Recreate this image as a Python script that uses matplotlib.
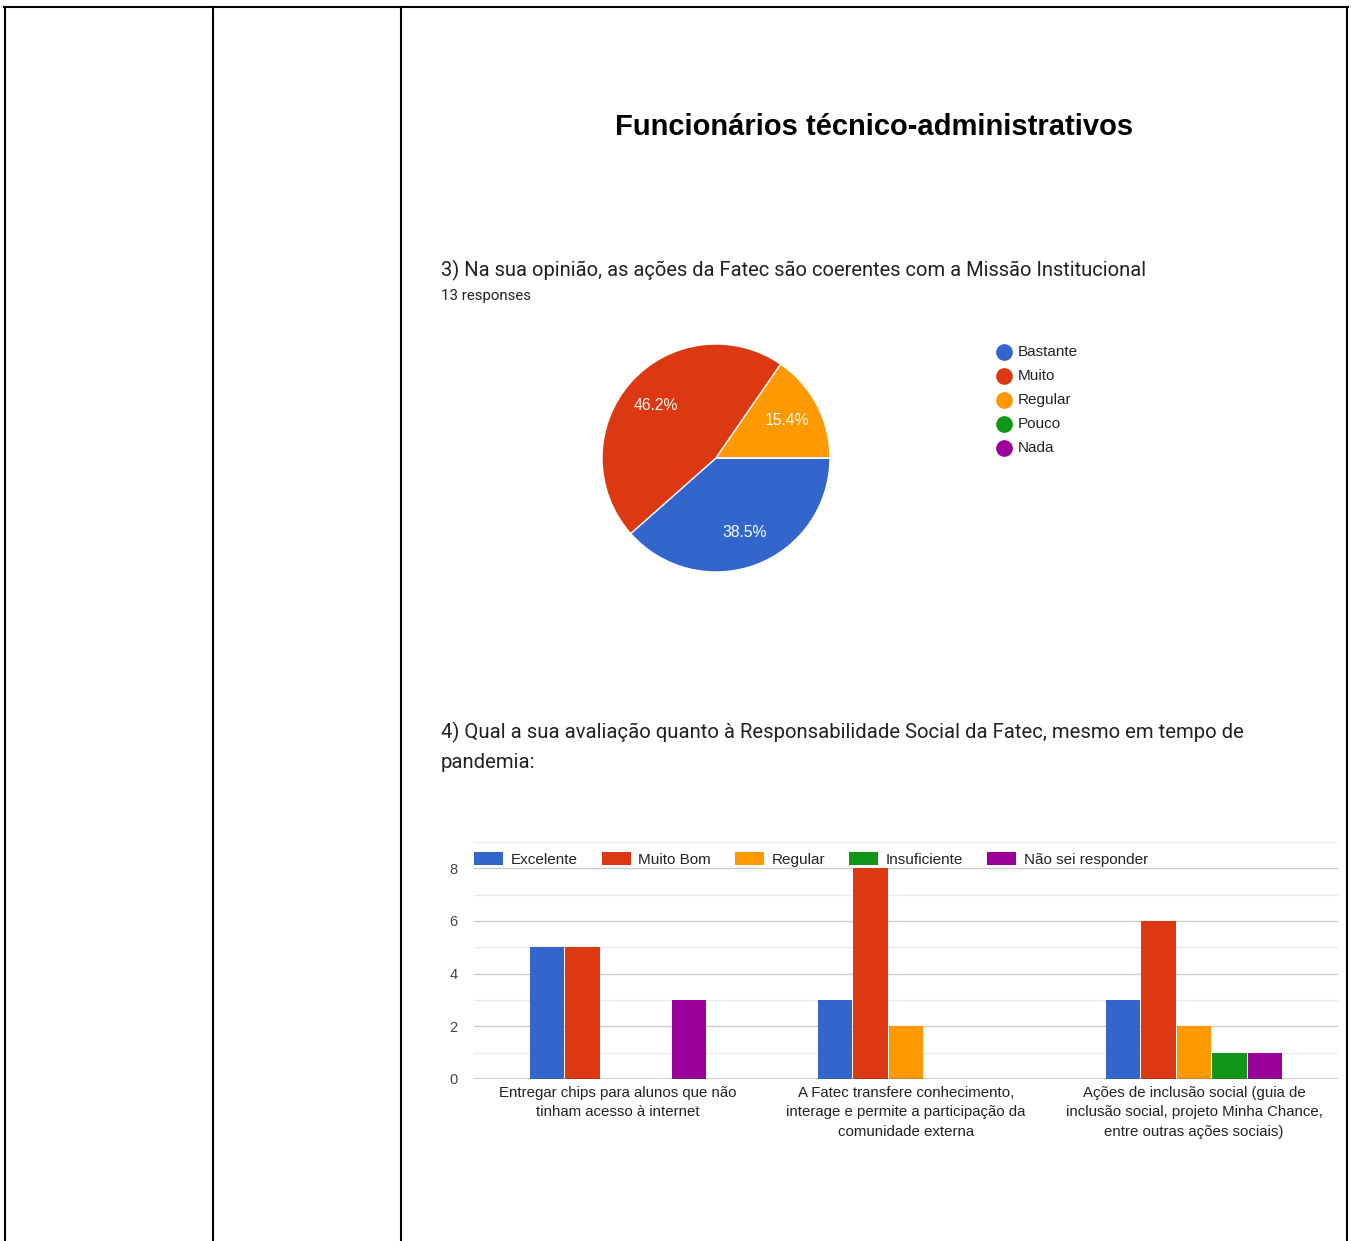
import matplotlib.pyplot as plt
from matplotlib.lines import Line2D
from matplotlib.patches import Patch
import numpy as np

# pie data
pie_labels = ['Bastante', 'Muito', 'Regular', 'Pouco', 'Nada']
pie_counts = [5, 6, 2, 0, 0]
pie_colors = ['#3366cc', '#dc3912', '#ff9900', '#109618', '#990099']

# bar data
bar_series = ['Excelente', 'Muito Bom', 'Regular', 'Insuficiente', 'Não sei responder']
bar_categories = ['Entregar chips para alunos que não\ntinham acesso à internet',
                  'A Fatec transfere conhecimento,\ninterage e permite a participação da\ncomunidade externa',
                  'Ações de inclusão social (guia de\ninclusão social, projeto Minha Chance,\nentre outras ações sociais)']
excelente = [5, 3, 3]
muito_bom = [5, 8, 6]
regular = [0, 2, 2]
insuficiente = [0, 0, 1]
nao_sei = [3, 0, 1]
bar_colors = ['#3366cc', '#dc3912', '#ff9900', '#109618', '#990099']

W, H = 1352, 1241
fig = plt.figure(figsize=(W / 100, H / 100), dpi=100)
fig.patch.set_facecolor('white')


def fx(x):
    return x / W


def fy(y):
    return 1 - y / H


# table borders
lw = 1.5
for x in [5, 213, 401, 1347]:
    fig.add_artist(Line2D([fx(x), fx(x)], [fy(7), fy(1241)], color='black', lw=lw))
fig.add_artist(Line2D([fx(4), fx(1348)], [fy(7), fy(7)], color='black', lw=lw))

# title and questions
fig.text(fx(874), fy(127), 'Funcionários técnico-administrativos', ha='center', va='center',
         fontsize=21, fontweight='bold', family='Liberation Sans', color='black')
fig.text(fx(441), fy(270), '3) Na sua opinião, as ações da Fatec são coerentes com a Missão Institucional',
         ha='left', va='center', fontsize=14.5, family='Roboto', color='#202124')
fig.text(fx(441), fy(296), '13 responses', ha='left', va='center', fontsize=10.8,
         family='Roboto', color='#202124')
fig.text(fx(441), fy(732), '4) Qual a sua avaliação quanto à Responsabilidade Social da Fatec, mesmo em tempo de',
         ha='left', va='center', fontsize=14.6, family='Roboto', color='#202124')
fig.text(fx(441), fy(762), 'pandemia:', ha='left', va='center', fontsize=14.6,
         family='Roboto', color='#202124')

# pie chart
R = 114
half = 125
axp = fig.add_axes([fx(716 - half), fy(458 + half), 2 * half / W, 2 * half / H])
wedges, texts, autotexts = axp.pie(pie_counts, colors=pie_colors, startangle=0, counterclock=False,
                                   autopct=lambda p: f'{p:.1f}%' if p > 0 else '',
                                   pctdistance=0.7, radius=1,
                                   wedgeprops=dict(edgecolor='white', linewidth=1),
                                   textprops=dict(color='white', fontsize=11.3, family='Liberation Sans'))
axp.set_xlim(-half / R, half / R)
axp.set_ylim(-half / R, half / R)
axp.set_aspect('equal')
axp.axis('off')

# pie legend
for i, (lab, col) in enumerate(zip(pie_labels, pie_colors)):
    yy = 352 + i * 24
    fig.add_artist(Line2D([fx(1004)], [fy(yy)], marker='o', markersize=11, color=col, lw=0))
    fig.text(fx(1018), fy(yy), lab, ha='left', va='center', fontsize=11,
             family='Liberation Sans', color='#222222')

# bar chart
axb = fig.add_axes([fx(474), fy(1079), 864 / W, 237 / H])
series = [excelente, muito_bom, regular, insuficiente, nao_sei]
x = np.arange(len(bar_categories))
step = 0.1236
for i, (vals, col, name) in enumerate(zip(series, bar_colors, bar_series)):
    axb.bar(x + (i - 2) * step, vals, width=step * 0.97, color=col, label=name, zorder=3)

axb.set_xlim(-0.5, 2.5)
axb.set_ylim(0, 9)
axb.set_yticks([0, 2, 4, 6, 8])
axb.set_yticks(range(0, 10), minor=True)
axb.grid(axis='y', which='major', color='#cccccc', lw=1, zorder=0)
axb.grid(axis='y', which='minor', color='#ebebeb', lw=1, zorder=0)
axb.axhline(0, color='#333333', lw=1, zorder=4)
axb.set_xticks(x)
axb.set_xticklabels(bar_categories, fontsize=10.8, family='Liberation Sans', color='#222222',
                    linespacing=1.5)
axb.tick_params(axis='both', which='both', length=0)
axb.tick_params(axis='y', pad=12, labelsize=10.5, labelcolor='#444444')
axb.tick_params(axis='x', pad=5)
for t in axb.get_yticklabels():
    t.set_family('Liberation Sans')
for s in axb.spines.values():
    s.set_visible(False)

handles = [Patch(facecolor=c, label=n) for c, n in zip(bar_colors, bar_series)]
axb.legend(handles=handles, loc='upper left', bbox_to_anchor=(-0.006, 0.982), ncol=5, frameon=False,
           handlelength=1.9, handleheight=1.0, handletextpad=0.5, columnspacing=1.56,
           borderaxespad=0, borderpad=0.35,
           prop=dict(family='Liberation Sans', size=11))
for t in axb.get_legend().get_texts():
    t.set_color('#222222')

fig.savefig('out.png', dpi=100, facecolor='white')
